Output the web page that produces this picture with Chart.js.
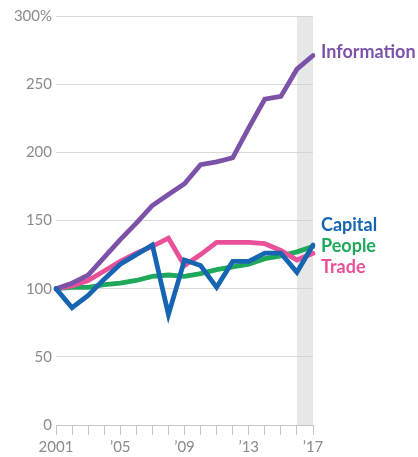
<!DOCTYPE html>
<html>
<head>
<meta charset="utf-8">
<script src="https://cdn.jsdelivr.net/npm/chart.js@4/dist/chart.umd.min.js"></script>
<style>
  html, body { margin: 0; padding: 0; background: #fff; }
  #wrap { width: 418px; height: 457px; position: relative; }
</style>
</head>
<body>
<div id="wrap"><canvas id="c"></canvas></div>
<script>
// ---- data ----
const years = ['2001','2002','2003','2004','2005','2006','2007','2008','2009','2010','2011','2012','2013','2014','2015','2016','2017'];
const xTickLabels = { '2001': '2001', '2005': '\u201905', '2009': '\u201909', '2013': '\u201913', '2017': '\u201917' };
const yTickValues = [0, 50, 100, 150, 200, 250, 300];
const information = [100, 104, 110, 123, 136, 148, 161, 169, 177, 191, 193, 196, 218, 239, 241, 261, 271];
const capital     = [100, 86, 95, 107, 118, 125, 132, 81, 121, 117, 101, 120, 120, 126, 126, 112, 132];
const people      = [100, 101, 101, 103, 104, 106, 109, 110, 109, 111, 114, 116, 118, 122, 124, 127, 131];
const trade       = [100, 102, 106, 113, 120, 126, 131, 137, 117, 125, 134, 134, 134, 133, 128, 121, 126];
const bandStart = '2016', bandEnd = '2017';

const C_INFO = '#7b52a8', C_CAP = '#1665b3', C_PEOPLE = '#1ea85a', C_TRADE = '#e8519a';

const bandPlugin = {
  id: 'band',
  beforeDatasetsDraw(chart) {
    const { ctx, chartArea, scales } = chart;
    const x0 = scales.x.getPixelForValue(years.indexOf(bandStart));
    const x1 = scales.x.getPixelForValue(years.indexOf(bandEnd));
    ctx.save();
    ctx.fillStyle = 'rgba(210,214,214,0.55)';
    ctx.fillRect(x0, chartArea.top, x1 - x0, chartArea.bottom - chartArea.top);
    ctx.restore();
  }
};

const labelPlugin = {
  id: 'endLabels',
  afterDatasetsDraw(chart) {
    const { ctx, scales } = chart;
    const last = years.length - 1;
    const x = scales.x.getPixelForValue(last) + 8;
    ctx.save();
    ctx.font = 'bold 18px Lato';
    ctx.textAlign = 'left';
    ctx.textBaseline = 'middle';
    const yInfo = scales.y.getPixelForValue(information[last]) - 3;
    ctx.fillStyle = C_INFO; ctx.fillText('Information', x, yInfo);
    const yPeople = scales.y.getPixelForValue(people[last]);
    ctx.fillStyle = C_CAP; ctx.fillText('Capital', x, yPeople - 21);
    ctx.fillStyle = C_PEOPLE; ctx.fillText('People', x, yPeople);
    ctx.fillStyle = C_TRADE; ctx.fillText('Trade', x, yPeople + 21);
    ctx.restore();
  }
};

const ds = (label, data, color, order) => ({
  label, data, borderColor: color, backgroundColor: color,
  borderWidth: 4.8, pointRadius: 0, tension: 0, order,
  borderJoinStyle: 'miter', borderCapStyle: 'round'
});

new Chart(document.getElementById('c'), {
  type: 'line',
  data: {
    labels: years,
    datasets: [
      ds('Capital', capital, C_CAP, 0),
      ds('Information', information, C_INFO, 1),
      ds('Trade', trade, C_TRADE, 2),
      ds('People', people, C_PEOPLE, 3)
    ]
  },
  options: {
    responsive: true,
    maintainAspectRatio: false,
    animation: false,
    layout: { padding: { top: 16, right: 105, left: 0, bottom: 0 } },
    plugins: { legend: { display: false }, tooltip: { enabled: false } },
    scales: {
      x: {
        offset: false,
        grid: { drawOnChartArea: false, drawTicks: true, tickLength: 10, color: '#c9c4c4', lineWidth: 1 },
        border: { display: true, color: '#c9c4c4', width: 1 },
        ticks: {
          autoSkip: false, maxRotation: 0, padding: 3,
          color: '#8a8a8a', font: { family: 'Lato', size: 15 },
          callback: (v, i) => xTickLabels[years[i]] || ''
        },
        afterFit: (s) => { s.height = 32; }
      },
      y: {
        min: 0, max: 300,
        afterBuildTicks: (s) => { s.ticks = yTickValues.map(v => ({ value: v })); },
        grid: { drawTicks: false, color: '#dcd5d5', lineWidth: 1 },
        border: { display: false },
        ticks: {
          padding: 4, color: '#8a8a8a', font: { family: 'Lato', size: 15 },
          callback: (v) => v === 300 ? '300%' : String(v)
        },
        afterFit: (s) => { s.width = 56; }
      }
    }
  },
  plugins: [bandPlugin, labelPlugin]
});
</script>
</body>
</html>
